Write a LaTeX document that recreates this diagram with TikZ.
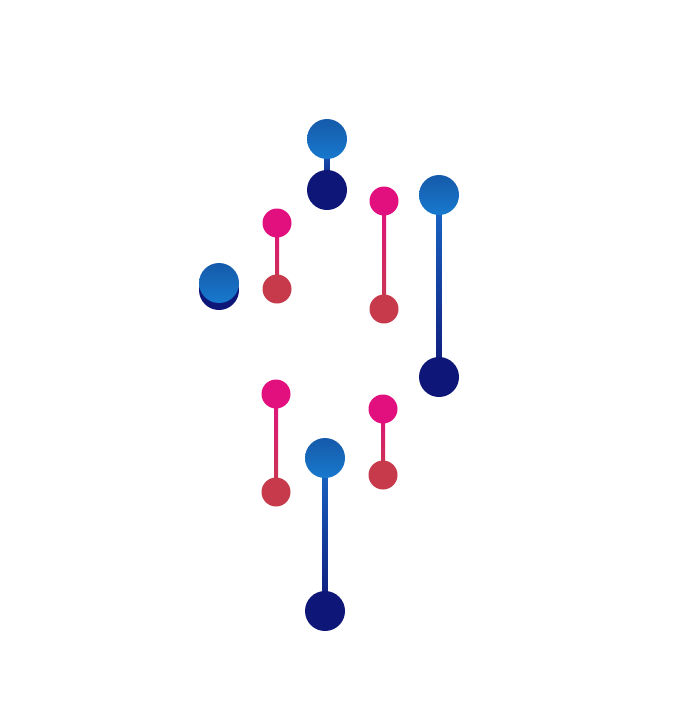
\documentclass[tikz,border=0pt]{standalone}
\definecolor{bl}{HTML}{1A6AC8}
\definecolor{nv}{HTML}{0E1778}
\definecolor{pk}{HTML}{E2107F}
\definecolor{rd}{HTML}{C63A4C}
\tikzset{x=1pt,y=-1pt,
 bigtop/.style={circle,minimum size=40pt,inner sep=0pt,top color=bl!85!black,bottom color=bl!90!cyan},
 bigbot/.style={circle,minimum size=40pt,inner sep=0pt,fill=nv},
 smtop/.style={circle,minimum size=29pt,inner sep=0pt,fill=pk},
 smbot/.style={circle,minimum size=29pt,inner sep=0pt,fill=rd}}
\newcommand{\bigdb}[4]{%
 \shade[top color=bl,bottom color=nv] (#1-2.5,#2) rectangle (#1+2.5,#4);
 \node[bigbot] (b#3) at (#1,#4) {};
 \node[bigtop] (t#3) at (#1,#2) {};}
\newcommand{\smdb}[4]{%
 \shade[top color=pk,bottom color=rd] (#1-2,#2) rectangle (#1+2,#4);
 \node[smbot] (s#3) at (#1,#4) {};
 \node[smtop] (p#3) at (#1,#2) {};}
\begin{document}
\begin{tikzpicture}
\useasboundingbox (0,0) rectangle (686,726);
\bigdb{327}{139}{1}{190}
\bigdb{219}{283}{2}{290}
\bigdb{439}{195}{3}{377}
\bigdb{325}{458}{4}{611}
\smdb{277}{223}{1}{289}
\smdb{384}{201}{2}{309}
\smdb{276}{394}{3}{492}
\smdb{383}{409}{4}{475}
\end{tikzpicture}
\end{document}
